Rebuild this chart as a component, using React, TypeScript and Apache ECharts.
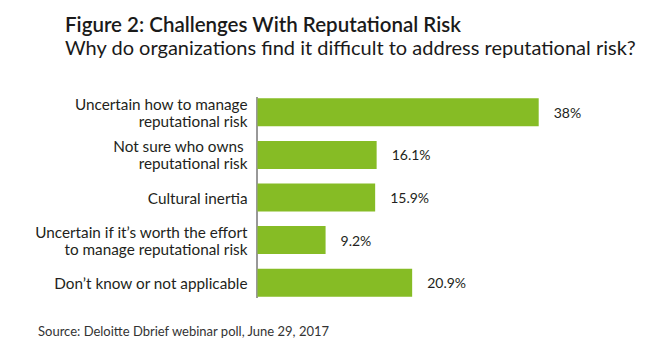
import React, { useEffect, useRef } from "react";
import * as echarts from "echarts";

const categories = [
  "Uncertain how to manage\nreputational risk",
  "Not sure who owns \nreputational risk",
  "Cultural inertia",
  "Uncertain if it’s worth the effort\nto manage reputational risk",
  "Don’t know or not applicable",
];
const values = [38, 16.1, 15.9, 9.2, 20.9];
const valueLabels = ["38%", "16.1%", "15.9%", "9.2%", "20.9%"];

const titleText = "Figure 2: Challenges With Reputational Risk";
const subtitleText = "Why do organizations find it difficult to address reputational risk?";
const sourceText = "Source: Deloitte Dbrief webinar poll, June 29, 2017";

const FONT = "Lato, 'Open Sans', sans-serif";
const GREEN = "#86BC25";

export default function App() {
  const ref = useRef<HTMLDivElement>(null);
  useEffect(() => {
    if (!ref.current) return;
    const chart = echarts.init(ref.current, null, { renderer: "svg" });
    chart.setOption({
      animation: false,
      backgroundColor: "#ffffff",
      textStyle: { fontFamily: FONT },
      title: [
        {
          text: titleText,
          left: 60,
          top: 8,
          textStyle: { fontFamily: FONT, fontSize: 20.5, fontWeight: 600, color: "#1a1a1a" },
        },
        {
          text: subtitleText,
          left: 60,
          top: 32,
          textStyle: { fontFamily: FONT, fontSize: 20, fontWeight: 400, color: "#1a1a1a" },
        },
        {
          text: sourceText,
          left: 33,
          top: 319,
          textStyle: { fontFamily: FONT, fontSize: 13, fontWeight: 400, color: "#333333" },
        },
      ],
      grid: { left: 257.5, right: 96.5, top: 91, bottom: 48, containLabel: false },
      xAxis: {
        type: "value",
        min: 0,
        max: 40,
        show: false,
      },
      yAxis: {
        type: "category",
        data: categories,
        inverse: true,
        axisLine: { show: false },
        axisTick: { show: false },
        axisLabel: {
          margin: 10,
          fontFamily: FONT,
          fontSize: 15.3,
          lineHeight: 17,
          color: "#231f20",
        },
      },
      graphic: [
        {
          type: "line",
          shape: { x1: 257, y1: 97, x2: 257, y2: 298 },
          style: { stroke: "#333333", lineWidth: 1 },
          silent: true,
        },
      ],
      series: [
        {
          type: "bar",
          data: values,
          barWidth: 28,
          itemStyle: { color: GREEN },
          label: {
            show: true,
            position: "right",
            distance: 15,
            fontFamily: FONT,
            fontSize: 14,
            color: "#231f20",
            formatter: (p: any) => valueLabels[p.dataIndex],
          },
        },
      ],
    });
    return () => chart.dispose();
  }, []);
  return (
    <div
      ref={ref}
      style={{ position: "fixed", left: 0, top: 0, width: 650, height: 352 }}
    />
  );
}
